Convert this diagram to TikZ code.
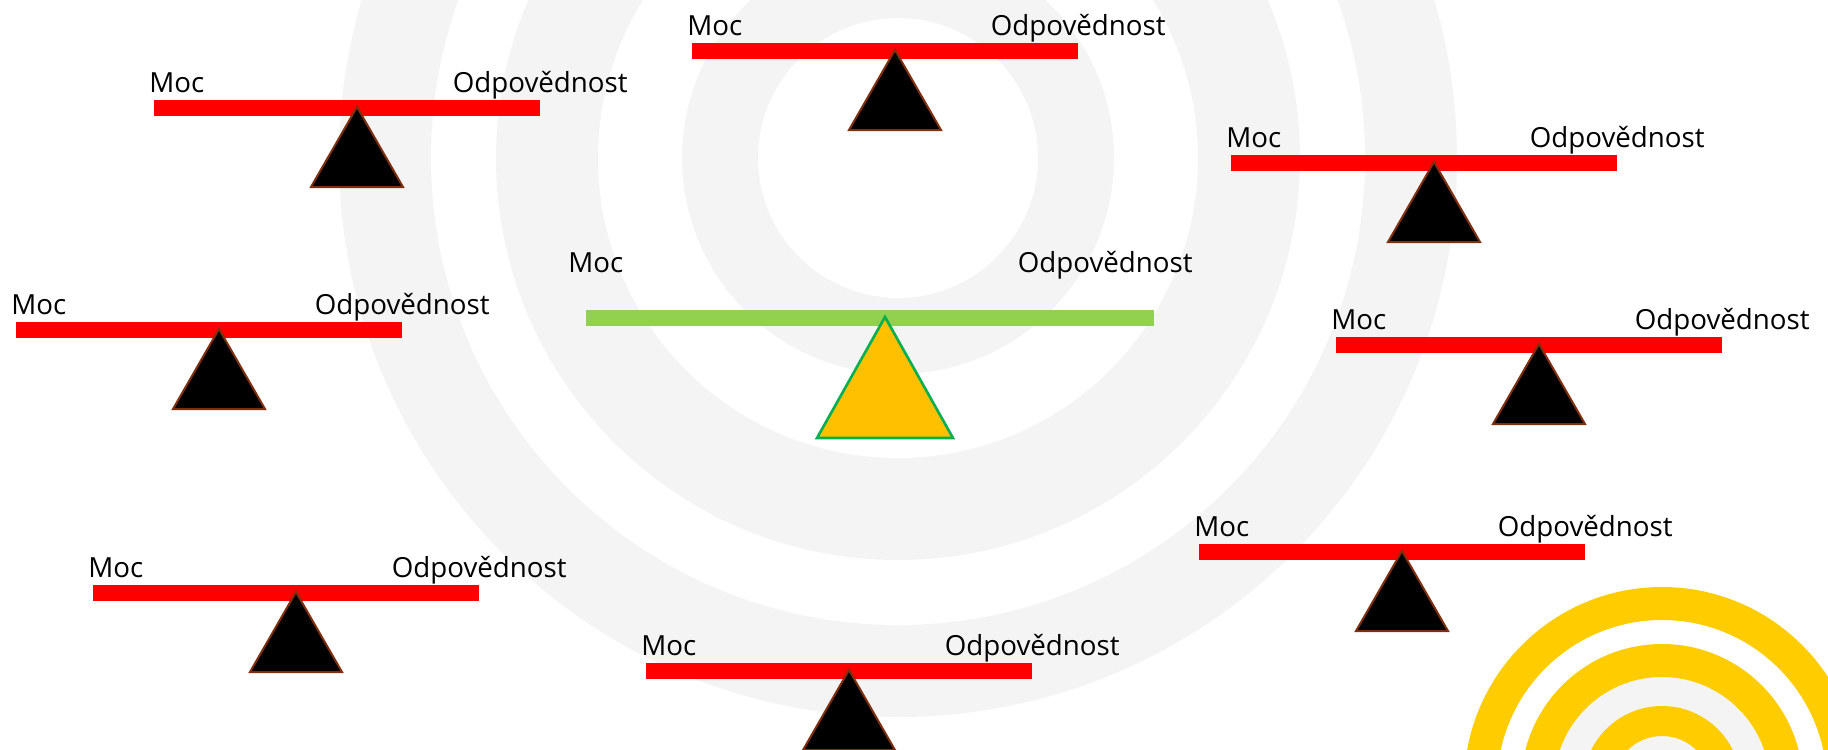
\documentclass[tikz,border=0pt]{standalone}
\usepackage{fontspec}
\setmainfont{Open Sans}
\definecolor{ringgray}{HTML}{F4F4F4}
\definecolor{barred}{HTML}{FF0000}
\definecolor{tribrown}{HTML}{7F2E0E}
\definecolor{bargreen}{HTML}{92D050}
\definecolor{triorange}{HTML}{FFC000}
\definecolor{trigreen}{HTML}{00B050}
\definecolor{arcyellow}{HTML}{FFCC00}
\tikzset{
  lbl/.style={inner sep=0pt, font=\fontsize{13.85pt}{16pt}\selectfont, text=black},
  redbar/.style={fill=barred, draw=none},
  blacktri/.style={fill=black, draw=tribrown, line width=1pt, line join=miter},
  greenbar/.style={fill=bargreen, draw=none},
  orangetri/.style={fill=triorange, draw=trigreen, line width=1.3pt, line join=miter},
}
\newcommand{\seesawdraw}[3]{%
  \fill[redbar] (#2,#3) rectangle ++(386,16);
  \filldraw[blacktri] (#2+203,#3+7) -- (#2+249,#3+87) -- (#2+157,#3+87) -- cycle;
  \node[lbl, anchor=base west] (#1moc) at (#2-5,#3-8) {Moc};
  \node[lbl, anchor=base east] (#1odp) at (#2+474,#3-8) {Odpovědnost};
}
\begin{document}
\begin{tikzpicture}[x=0.5pt,y=-0.5pt]
\useasboundingbox (0,0) rectangle (1828,750);
\begin{scope}
  \clip (0,0) rectangle (1828,750);
  % background rings
  \fill[ringgray, even odd rule] (898,158) circle[radius=70pt] circle[radius=108pt];
  \fill[ringgray, even odd rule] (898,158) circle[radius=150pt] circle[radius=201pt];
  \fill[ringgray, even odd rule] (898,158) circle[radius=233.5pt] circle[radius=279.5pt];
  % bottom-right target
  \fill[ringgray] (1662,785) circle[radius=54pt];
  \fill[arcyellow, even odd rule] (1662,785) circle[radius=82.5pt] circle[radius=99pt];
  \fill[arcyellow, even odd rule] (1662,785) circle[radius=54pt] circle[radius=70.5pt];
  \fill[arcyellow, even odd rule] (1662,785) circle[radius=24.5pt] circle[radius=39.5pt];
  % red seesaws
  \seesawdraw{a}{154}{100}
  \seesawdraw{b}{692}{43}
  \seesawdraw{c}{1231}{155}
  \seesawdraw{d}{16}{322}
  \seesawdraw{e}{1336}{337}
  \seesawdraw{f}{93}{585}
  \seesawdraw{g}{1199}{544}
  \seesawdraw{h}{646}{663}
  % green balanced seesaw
  \fill[greenbar] (586,310) rectangle (1154,326);
  \filldraw[orangetri] (885,317) -- (953,438) -- (817,438) -- cycle;
  \node[lbl, anchor=base west] (gmoc) at (568,272) {Moc};
  \node[lbl, anchor=base east] (godp) at (1193,272) {Odpovědnost};
\end{scope}
\end{tikzpicture}
\end{document}
